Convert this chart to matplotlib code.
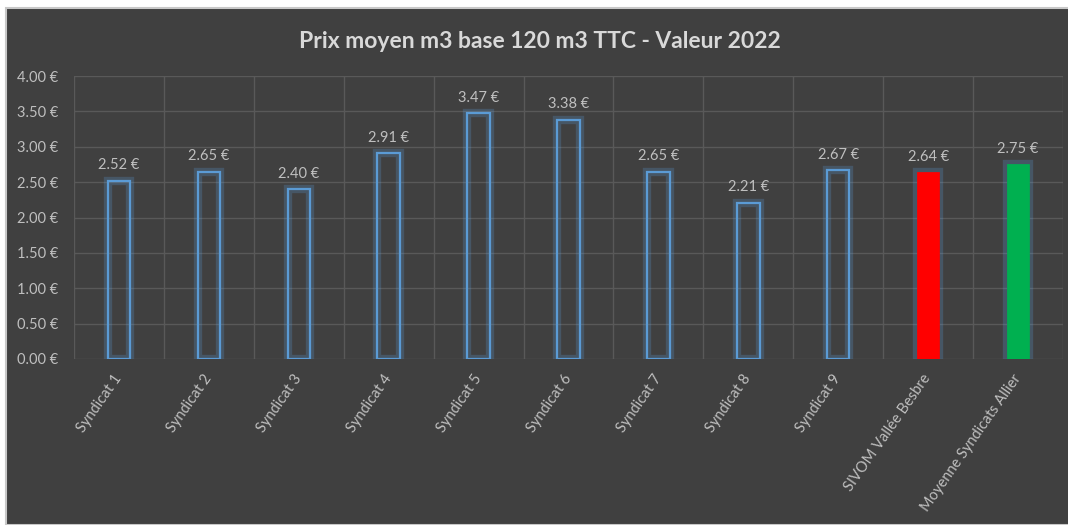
import matplotlib.pyplot as plt
import matplotlib.patheffects as pe
from matplotlib.patches import Rectangle
import numpy as np

categories = ['Syndicat 1', 'Syndicat 2', 'Syndicat 3', 'Syndicat 4', 'Syndicat 5',
              'Syndicat 6', 'Syndicat 7', 'Syndicat 8', 'Syndicat 9',
              'SIVOM Vallée Besbre', 'Moyenne Syndicats Allier']
prices = [2.52, 2.65, 2.40, 2.91, 3.47, 3.38, 2.65, 2.21, 2.67, 2.64, 2.75]
fills = ['none'] * 9 + ['#ff0000', '#00b050']
yticks = [0, 0.5, 1, 1.5, 2, 2.5, 3, 3.5, 4]

plt.rcParams['font.family'] = ['Lato', 'DejaVu Sans']
bg = '#404040'
txt = '#bfbfbf'
grid = '#595959'

fig = plt.figure(figsize=(10.68, 5.25), dpi=100, facecolor='white')
fig.patches.append(Rectangle((6 / 1068, 0), 1, 1 - 8 / 525, transform=fig.transFigure,
                             facecolor=bg, edgecolor='#c8c8c8', linewidth=1.5, zorder=-10))

ax = fig.add_axes([74 / 1068, 1 - 359 / 525, 989 / 1068, 283 / 525])
ax.set_facecolor(bg)
x = np.arange(len(categories))

glow = [pe.Stroke(linewidth=6, foreground='#5b9bd5', alpha=0.25), pe.Normal()]
for xi, v, f in zip(x, prices, fills):
    if f == 'none':
        b = ax.bar(xi, v, width=0.25, facecolor='none', edgecolor='#5b9bd5', linewidth=1.6, zorder=3)
    else:
        b = ax.bar(xi, v, width=0.25, facecolor=f, edgecolor=f, linewidth=0.5, zorder=3)
    b[0].set_path_effects(glow)
    ax.text(xi, v + 0.12, f'{v:.2f} €', ha='center', va='bottom', color=txt, fontsize=10.5)

ax.set_xlim(-0.5, len(categories) - 0.5)
ax.set_ylim(0, 4)
ax.set_yticks(yticks)
ax.set_yticklabels([f'{t:.2f} €' for t in yticks], color=txt, fontsize=10.5)
ax.set_xticks(x)
ax.set_xticklabels(categories, rotation=55, ha='right', va='center', rotation_mode='anchor',
                   color=txt, fontsize=10.5)
ax.tick_params(axis='y', length=0, pad=11)
ax.tick_params(axis='x', length=0, pad=12)

for t in yticks:
    ax.axhline(t, color=grid, linewidth=1, zorder=1)
for b in np.arange(-0.5, len(categories), 1):
    ax.axvline(b, color=grid, linewidth=1, zorder=1)
for s in ax.spines.values():
    s.set_visible(False)

fig.text(540 / 1068, 1 - 42 / 525, 'Prix moyen m3 base 120 m3 TTC - Valeur 2022',
         ha='center', va='center', color='#d9d9d9', fontsize=16.5, fontweight='bold')

fig.savefig('out.png', dpi=100, facecolor=fig.get_facecolor())
